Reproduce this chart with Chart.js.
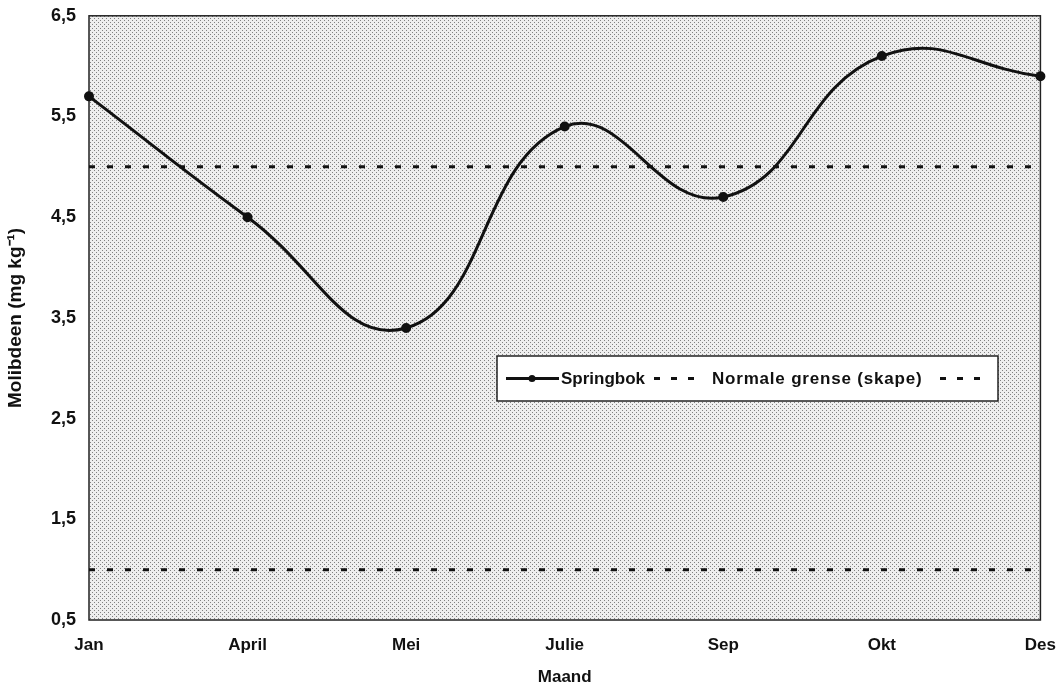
<!DOCTYPE html>
<html>
<head>
<meta charset="utf-8">
<script src="https://cdn.jsdelivr.net/npm/chart.js@4.4.1/dist/chart.umd.min.js"></script>
<style>
  html, body { margin: 0; background: #fff; overflow: hidden; }
  #wrap { width: 1071px; height: 700px; margin-top: -8px; }
</style>
</head>
<body>
<div id="wrap"><canvas id="lineChart"></canvas></div>
<script>
// maande en molibdeen waardes
var maande = ["Jan", "April", "Mei", "Julie", "Sep", "Okt", "Des"];
var springbok = [5.7, 4.5, 3.4, 5.4, 4.7, 6.1, 5.9];
var grensBo = [5.0, 5.0, 5.0, 5.0, 5.0, 5.0, 5.0];
var grensOnder = [1.0, 1.0, 1.0, 1.0, 1.0, 1.0, 1.0];
var yTicks = [0.5, 1.5, 2.5, 3.5, 4.5, 5.5, 6.5];

var font = "'Liberation Sans', Arial, sans-serif";

// gespikkelde agtergrond
var pat = document.createElement('canvas');
pat.width = 4; pat.height = 4;
var pctx = pat.getContext('2d');
pctx.fillStyle = '#eeeeee';
pctx.fillRect(0, 0, 4, 4);
pctx.fillStyle = '#808080';
pctx.fillRect(0, 0, 1, 1);
pctx.fillRect(2, 2, 1, 1);

var agtergrond = {
    id: 'agtergrond',
    beforeDatasetsDraw: function (chart) {
        var a = chart.chartArea, c = chart.ctx;
        c.save();
        c.fillStyle = c.createPattern(pat, 'repeat');
        c.fillRect(a.left, a.top, a.right - a.left, a.bottom - a.top);
        c.strokeStyle = '#222';
        c.lineWidth = 1.5;
        c.strokeRect(a.left, a.top, a.right - a.left, a.bottom - a.top);
        c.restore();
    }
};

// legende binne die grafiek (posisie in skermpixels)
var legende = {
    id: 'legende',
    afterDatasetsDraw: function (chart) {
        var c = chart.ctx;
        var dy = 8; // canvas is 8px opgeskuif
        var x0 = 497, y0 = 356 + dy, w = 501, h = 45, cy = y0 + h / 2;
        c.save();
        c.fillStyle = '#fff';
        c.fillRect(x0, y0, w, h);
        c.strokeStyle = '#222';
        c.lineWidth = 1.5;
        c.strokeRect(x0, y0, w, h);
        c.font = "bold 17px " + font;
        c.textBaseline = 'middle';
        c.fillStyle = '#111';
        // Springbok
        c.strokeStyle = '#111';
        c.lineWidth = 3;
        c.beginPath(); c.moveTo(506, cy); c.lineTo(559, cy); c.stroke();
        c.beginPath(); c.arc(532, cy, 3.5, 0, Math.PI * 2); c.fill();
        c.fillText(chart.data.datasets[0].label, 561, cy + 1);
        // grense
        c.setLineDash([6, 11]);
        c.beginPath(); c.moveTo(654, cy); c.lineTo(694, cy); c.stroke();
        c.letterSpacing = '0.8px';
        c.fillText(chart.data.datasets[1].label, 712, cy + 1);
        c.beginPath(); c.moveTo(940, cy); c.lineTo(984, cy); c.stroke();
        c.restore();
    }
};

var ctx = document.getElementById("lineChart").getContext('2d');
var myLineChart = new Chart(ctx, {
    type: 'line',
    data: {
        labels: maande,
        datasets: [{
            label: "Springbok",
            data: springbok,
            borderColor: "#111",
            backgroundColor: "#111",
            borderWidth: 3,
            pointRadius: 3.5,
            tension: 0.45
        }, {
            label: "Normale grense (skape)",
            data: grensBo,
            borderColor: "#111",
            borderWidth: 3,
            borderDash: [6, 12],
            pointRadius: 0
        }, {
            label: "",
            data: grensOnder,
            borderColor: "#111",
            borderWidth: 3,
            borderDash: [6, 12],
            pointRadius: 0
        }]
    },
    options: {
        responsive: true,
        maintainAspectRatio: false,
        animation: false,
        layout: { padding: { left: 0, right: 3, top: 6, bottom: 0 } },
        plugins: {
            legend: { display: false },
            tooltip: { enabled: false }
        },
        scales: {
            x: {
                offset: false,
                grid: { display: false, drawTicks: false },
                border: { display: false },
                ticks: { color: '#111', padding: 15, font: { family: font, size: 17, weight: 'bold' } },
                title: { display: true, text: 'Maand', color: '#111', padding: { top: 10 },
                         font: { family: font, size: 17, weight: 'bold' } },
                afterFit: function (s) { s.height = 72; }
            },
            y: {
                min: 0.5,
                max: 6.5,
                afterBuildTicks: function (s) { s.ticks = yTicks.map(function (v) { return { value: v }; }); },
                grid: { display: false, drawTicks: false },
                border: { display: false },
                ticks: {
                    color: '#111', padding: 13,
                    font: { family: font, size: 18, weight: 'bold' },
                    callback: function (v) { return v.toFixed(1).replace('.', ','); }
                },
                title: { display: true, text: 'Molibdeen (mg kg\u207B\u00B9)', color: '#111',
                         font: { family: font, size: 19, weight: 'bold' } },
                afterFit: function (s) { s.width = 89; }
            }
        }
    },
    plugins: [agtergrond, legende]
});
</script>
</body>
</html>
